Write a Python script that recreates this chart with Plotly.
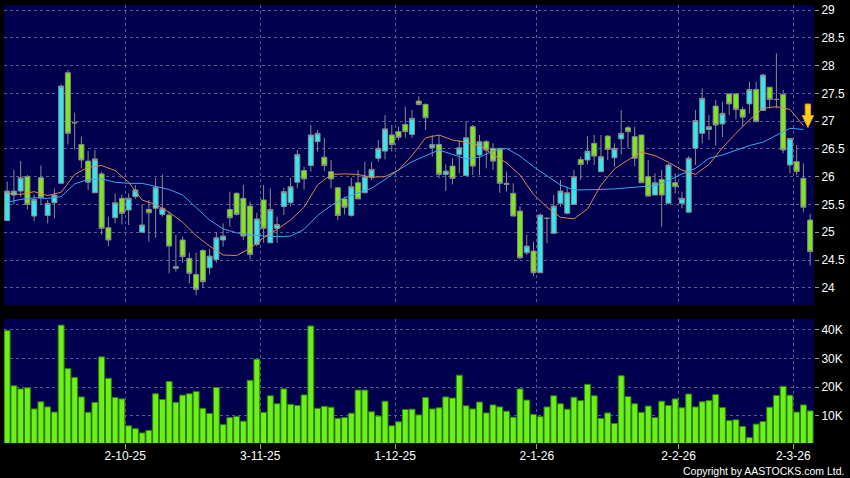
import plotly.graph_objects as go

# ---------------- data ----------------
dates = [
    "2025-09-05", "2025-09-08", "2025-09-09", "2025-09-10", "2025-09-11", "2025-09-12",
    "2025-09-15", "2025-09-16", "2025-09-17", "2025-09-18", "2025-09-19",
    "2025-09-22", "2025-09-23", "2025-09-24", "2025-09-25", "2025-09-26",
    "2025-09-29", "2025-09-30",
    "2025-10-02", "2025-10-03", "2025-10-06", "2025-10-08", "2025-10-09", "2025-10-10",
    "2025-10-13", "2025-10-14", "2025-10-15", "2025-10-16", "2025-10-17",
    "2025-10-20", "2025-10-21", "2025-10-22", "2025-10-23", "2025-10-24",
    "2025-10-27", "2025-10-28", "2025-10-30", "2025-10-31",
    "2025-11-03", "2025-11-04", "2025-11-05", "2025-11-06", "2025-11-07",
    "2025-11-10", "2025-11-11", "2025-11-12", "2025-11-13", "2025-11-14",
    "2025-11-17", "2025-11-18", "2025-11-19", "2025-11-20", "2025-11-21",
    "2025-11-24", "2025-11-25", "2025-11-26", "2025-11-27", "2025-11-28",
    "2025-12-01", "2025-12-02", "2025-12-03", "2025-12-04", "2025-12-05",
    "2025-12-08", "2025-12-09", "2025-12-10", "2025-12-11", "2025-12-12",
    "2025-12-15", "2025-12-16", "2025-12-17", "2025-12-18", "2025-12-19",
    "2025-12-22", "2025-12-23", "2025-12-24", "2025-12-29", "2025-12-30", "2025-12-31",
    "2026-01-02", "2026-01-05", "2026-01-06", "2026-01-07", "2026-01-08", "2026-01-09",
    "2026-01-12", "2026-01-13", "2026-01-14", "2026-01-15", "2026-01-16",
    "2026-01-19", "2026-01-20", "2026-01-21", "2026-01-22", "2026-01-23",
    "2026-01-26", "2026-01-27", "2026-01-28", "2026-01-29", "2026-01-30",
    "2026-02-02", "2026-02-03", "2026-02-04", "2026-02-05", "2026-02-06",
    "2026-02-09", "2026-02-10", "2026-02-11", "2026-02-12", "2026-02-13",
    "2026-02-16", "2026-02-20",
    "2026-02-23", "2026-02-24", "2026-02-25", "2026-02-26", "2026-02-27",
    "2026-03-02", "2026-03-03", "2026-03-04",
]

opens = [
    25.21, 25.67, 25.74, 26.00, 25.29, 25.98, 25.30, 25.53, 25.88, 27.87,
    26.97, 26.58, 26.28, 25.71, 26.05, 25.08, 25.26, 25.61, 25.40, 25.64,
    25.00, 25.41, 25.43, 25.32, 25.31, 24.35, 24.86, 24.53, 24.24, 24.67,
    24.36, 24.51, 24.86, 25.41, 25.70, 25.61, 25.47, 24.78, 25.58, 24.81,
    25.07, 25.46, 25.53, 25.90, 26.11, 26.20, 26.63, 26.35, 26.09, 25.80,
    25.60, 25.30, 25.89, 25.71, 25.98, 26.33, 26.46, 26.75, 26.81, 26.94,
    26.76, 27.36, 27.30, 26.52, 26.58, 26.04, 26.19, 26.40, 26.02, 26.90,
    26.39, 26.63, 26.51, 26.51, 25.88, 25.70, 25.38, 24.63, 24.66, 24.27,
    25.25, 24.98, 25.52, 25.34, 25.50, 26.31, 26.30, 26.60, 26.09, 26.73,
    26.34, 26.68, 26.88, 26.72, 26.75, 26.00, 25.67, 25.95, 25.52, 25.89,
    25.52, 25.36, 26.51, 26.78, 26.85, 27.27, 26.95, 27.49, 27.49, 27.21,
    27.31, 27.57, 27.19, 27.61, 27.39, 27.48, 26.21, 26.27, 25.97, 25.22,
]
highs = [
    25.91, 26.12, 26.28, 26.03, 25.67, 26.20, 25.58, 25.79, 27.66, 27.92,
    27.15, 26.72, 26.46, 26.48, 26.09, 25.28, 25.70, 25.68, 25.70, 25.85,
    25.50, 25.58, 25.98, 26.04, 25.37, 24.95, 24.92, 24.63, 24.63, 24.70,
    24.70, 25.00, 25.16, 25.73, 25.72, 25.85, 25.55, 25.35, 25.85, 25.79,
    25.28, 25.80, 25.98, 26.48, 26.18, 26.93, 26.84, 26.70, 26.30, 25.80,
    25.64, 25.98, 26.12, 26.27, 26.27, 26.66, 27.11, 26.93, 26.90, 27.26,
    27.20, 27.45, 27.32, 26.75, 26.75, 26.22, 26.33, 26.66, 27.00, 26.93,
    26.75, 26.66, 26.60, 26.52, 26.09, 25.88, 25.47, 24.96, 24.83, 25.34,
    25.27, 25.67, 25.94, 25.82, 26.12, 26.36, 26.73, 26.75, 26.75, 26.75,
    26.60, 27.20, 26.91, 26.90, 26.75, 26.30, 26.06, 26.12, 26.24, 26.06,
    25.73, 26.37, 27.20, 27.59, 27.11, 27.38, 27.35, 27.49, 27.49, 27.26,
    27.71, 27.71, 27.85, 27.61, 28.22, 27.56, 26.69, 26.57, 26.24, 25.33,
]
lows = [
    25.20, 25.50, 25.64, 25.41, 25.20, 25.50, 25.16, 25.25, 25.88, 26.58,
    26.49, 26.15, 25.76, 25.71, 24.95, 24.75, 25.16, 25.14, 25.13, 25.60,
    25.00, 24.83, 24.90, 25.28, 24.26, 24.29, 24.45, 24.08, 23.87, 24.00,
    24.24, 24.45, 24.74, 25.10, 25.30, 24.86, 24.51, 24.75, 24.81, 24.81,
    24.81, 25.31, 25.46, 25.79, 25.77, 26.09, 26.45, 26.10, 25.79, 25.22,
    25.32, 25.28, 25.60, 25.70, 25.94, 26.27, 26.31, 26.45, 26.66, 26.70,
    26.70, 27.28, 26.84, 26.36, 25.97, 25.74, 25.86, 26.06, 26.02, 26.03,
    26.03, 26.15, 26.12, 25.71, 25.73, 25.29, 24.51, 24.59, 24.21, 24.27,
    24.80, 24.98, 25.46, 25.32, 25.50, 25.94, 26.22, 26.21, 26.09, 26.30,
    26.18, 26.40, 26.51, 26.19, 25.89, 25.64, 25.67, 25.10, 25.52, 25.70,
    25.43, 25.36, 26.21, 26.60, 26.66, 26.56, 26.71, 27.11, 27.03, 26.90,
    27.14, 26.99, 27.19, 27.23, 27.23, 26.42, 26.06, 26.03, 25.36, 24.40,
]
closes = [
    25.74, 25.74, 25.98, 25.50, 25.59, 25.62, 25.52, 25.67, 27.63, 26.78,
    26.97, 26.30, 25.90, 26.32, 25.07, 24.86, 25.53, 25.34, 25.61, 25.76,
    25.13, 25.35, 25.81, 25.43, 24.75, 24.38, 24.56, 24.26, 23.97, 24.11,
    24.57, 24.90, 24.93, 25.26, 25.32, 24.93, 24.60, 25.24, 25.07, 25.41,
    25.14, 25.73, 25.82, 26.40, 25.96, 26.75, 26.78, 26.20, 25.96, 25.30,
    25.45, 25.82, 25.60, 26.00, 26.13, 26.51, 26.86, 26.58, 26.71, 26.81,
    27.05, 27.30, 27.06, 26.58, 26.04, 26.10, 25.97, 26.52, 26.70, 26.19,
    26.63, 26.48, 26.28, 25.88, 25.86, 25.29, 24.54, 24.75, 24.27, 25.31,
    25.25, 25.47, 25.74, 25.71, 26.00, 26.22, 26.46, 26.37, 26.36, 26.49,
    26.51, 26.78, 26.81, 26.33, 25.89, 25.65, 25.89, 25.67, 26.21, 25.82,
    25.61, 26.33, 27.01, 27.41, 26.90, 26.93, 27.14, 27.31, 27.21, 27.07,
    27.57, 26.99, 27.83, 27.39, 27.39, 26.48, 26.69, 26.09, 25.45, 24.65,
]

# volume in thousands of shares
volume_k = [
    39.8, 20.5, 19.4, 19.8, 12.4, 14.9, 13.1, 11.3, 41.7, 26.5,
    23.4, 16.6, 11.2, 14.7, 30.6, 23.1, 16.4, 15.9, 6.5, 5.5,
    4.0, 4.9, 17.7, 15.7, 22.0, 14.7, 17.2, 17.7, 18.5, 12.6,
    10.8, 19.9, 6.9, 9.4, 9.8, 8.1, 22.4, 29.8, 11.2, 17.0,
    14.2, 19.4, 14.0, 13.6, 17.3, 41.4, 12.6, 13.3, 13.0, 9.1,
    9.4, 10.9, 19.0, 19.0, 11.4, 9.9, 15.1, 6.5, 7.9, 12.2,
    12.3, 10.3, 16.4, 12.4, 12.8, 16.6, 16.2, 24.2, 13.5, 12.4,
    14.8, 11.0, 13.8, 13.1, 11.6, 9.5, 19.4, 15.5, 10.5, 9.7,
    13.1, 17.0, 14.2, 12.3, 16.5, 15.3, 21.0, 17.0, 9.1, 11.0,
    7.3, 24.0, 16.7, 14.2, 11.2, 13.4, 9.4, 15.1, 13.6, 15.9,
    12.8, 17.6, 13.1, 14.9, 15.3, 17.4, 12.9, 8.3, 8.6, 6.3,
    2.4, 7.1, 8.0, 13.0, 17.1, 20.3, 17.2, 11.3, 13.8, 11.7,
]

# moving averages, every second session
ma10 = [
    25.70, 25.68, 25.73, 25.66, 25.72, 26.04, 26.17, 26.20, 26.11, 25.90,
    25.58, 25.50, 25.36, 25.18, 24.94, 24.75, 24.59, 24.58, 24.71, 24.90,
    25.05, 25.22, 25.45, 25.85, 26.04, 26.05, 26.04, 25.99, 26.00, 26.12,
    26.38, 26.70, 26.75, 26.66, 26.62, 26.56, 26.40, 26.25, 26.03, 25.68,
    25.45, 25.27, 25.24, 25.42, 25.85, 26.14, 26.30, 26.44, 26.38, 26.26,
    26.12, 26.04, 26.22, 26.52, 26.78, 27.02, 27.23, 27.26, 27.21, 26.92,
]
ma20 = [
    25.54, 25.59, 25.62, 25.61, 25.64, 25.87, 25.95, 25.96, 25.90, 25.88,
    25.88, 25.83, 25.77, 25.67, 25.45, 25.22, 25.06, 24.99, 24.95, 24.93,
    24.92, 24.93, 25.05, 25.30, 25.48, 25.62, 25.70, 25.79, 25.95, 26.12,
    26.27, 26.38, 26.48, 26.40, 26.32, 26.35, 26.46, 26.51, 26.37, 26.18,
    26.01, 25.85, 25.76, 25.76, 25.77, 25.78, 25.80, 25.83, 25.84, 25.93,
    26.05, 26.15, 26.33, 26.39, 26.48, 26.56, 26.62, 26.75, 26.87, 26.85,
]

tick_dates = ["2025-10-02", "2025-11-03", "2025-12-01", "2026-01-02", "2026-02-02", "2026-03-02"]
tick_labels = ["2-10-25", "3-11-25", "1-12-25", "2-1-26", "2-2-26", "2-3-26"]

price_ticks = [24, 24.5, 25, 25.5, 26, 26.5, 27, 27.5, 28, 28.5, 29]
price_labels = ["24", "24.5", "25", "25.5", "26", "26.5", "27", "27.5", "28", "28.5", "29"]
vol_ticks_k = [10, 20, 30, 40]
vol_labels = ["10K", "20K", "30K", "40K"]

# ---------------- styling ----------------
BG = "#000000"
PANEL = "#00004E"
CYAN = "#33E6F0"
GREEN = "#80E620"
EDGE = "#8A8A8A"
VOL = "#6BF01A"
VOL_EDGE = "#2F7D0C"
GRID = "#5A5A90"
ORANGE = "#E0844C"
BLUE = "#3AA6EE"
FONT = "Liberation Sans"

idx = list(range(len(dates)))
ma_idx = idx[::2]
tick_pos = [dates.index(d) - 0.5 for d in tick_dates]

W, H = 850, 478
ML, MR, MT, MB = 4, 36, 5, 35
plot_w = W - ML - MR
plot_h = H - MT - MB


def px_x(px):
    return (px - ML) / plot_w


def px_y(py):
    return (H - MB - py) / plot_h


fig = go.Figure()

fig.add_trace(go.Scatter(
    x=ma_idx, y=ma20, mode="lines", line=dict(color=BLUE, width=1),
    xaxis="x", yaxis="y", hoverinfo="skip"))
fig.add_trace(go.Scatter(
    x=ma_idx, y=ma10, mode="lines", line=dict(color=ORANGE, width=1),
    xaxis="x", yaxis="y", hoverinfo="skip"))

fig.add_trace(go.Candlestick(
    x=idx, open=opens, high=highs, low=lows, close=closes,
    increasing=dict(fillcolor=CYAN, line=dict(color=EDGE, width=1)),
    decreasing=dict(fillcolor=GREEN, line=dict(color=EDGE, width=1)),
    whiskerwidth=0, hovertext=dates, xaxis="x", yaxis="y"))

fig.add_trace(go.Bar(
    x=idx, y=[v * 1000 for v in volume_k],
    marker=dict(color=VOL, line=dict(color=VOL_EDGE, width=1)),
    hovertext=dates, xaxis="x2", yaxis="y2"))

xrange = [-0.47, 119.57]
common_x = dict(
    range=xrange, tickmode="array", tickvals=tick_pos, ticktext=tick_labels,
    showgrid=True, gridcolor=GRID, griddash="3px,3px", gridwidth=1,
    zeroline=False, showline=False, fixedrange=True,
)

fig.update_layout(
    width=W, height=H,
    margin=dict(l=ML, r=MR, t=MT, b=MB),
    paper_bgcolor=BG, plot_bgcolor=PANEL,
    showlegend=False,
    font=dict(family=FONT, size=12, color="#FFFFFF"),
    bargap=0.12,
    boxgap=0.26, boxgroupgap=0,
    xaxis=dict(common_x, anchor="y", showticklabels=False, ticks="",
               rangeslider=dict(visible=False)),
    yaxis=dict(domain=[px_y(305), 1], range=[23.69, 29.09], side="right",
               tickmode="array", tickvals=price_ticks, ticktext=price_labels,
               ticks="outside", ticklen=4, tickcolor="#9A9A9A",
               showgrid=True, gridcolor=GRID, griddash="3px,3px",
               zeroline=False, fixedrange=True),
    xaxis2=dict(common_x, anchor="y2", ticks="outside", ticklen=5,
                tickcolor="#9A9A9A", tickfont=dict(size=12),
                ticklabelstandoff=-3),
    yaxis2=dict(domain=[0, px_y(319)], range=[480, 43840], side="right",
                tickmode="array", tickvals=[v * 1000 for v in vol_ticks_k],
                ticktext=vol_labels, ticks="outside", ticklen=4,
                tickcolor="#9A9A9A", showgrid=True, gridcolor=GRID,
                griddash="3px,3px", zeroline=False, fixedrange=True),
)

# yellow down arrow marking the last session
pts = [(805.2, 104), (810.6, 104), (810.6, 115.5), (813.6, 115.5),
       (807.9, 127.5), (802.2, 115.5), (805.2, 115.5)]
path = "M " + " L ".join(f"{px_x(a):.5f},{px_y(b):.5f}" for a, b in pts) + " Z"
fig.add_shape(type="path", path=path, xref="paper", yref="paper",
              fillcolor="#FFCF1F", line=dict(color="#E39A00", width=1))

fig.add_annotation(text="Copyright by AASTOCKS.com Ltd.", xref="paper", yref="paper",
                   x=px_x(846), y=px_y(471), xanchor="right", yanchor="middle",
                   showarrow=False, font=dict(family=FONT, size=10.5, color="#FFFFFF"))

fig.write_html("out.html", config={"displayModeBar": False},
               post_script="document.body.style.margin='0';document.body.style.background='#000';")
